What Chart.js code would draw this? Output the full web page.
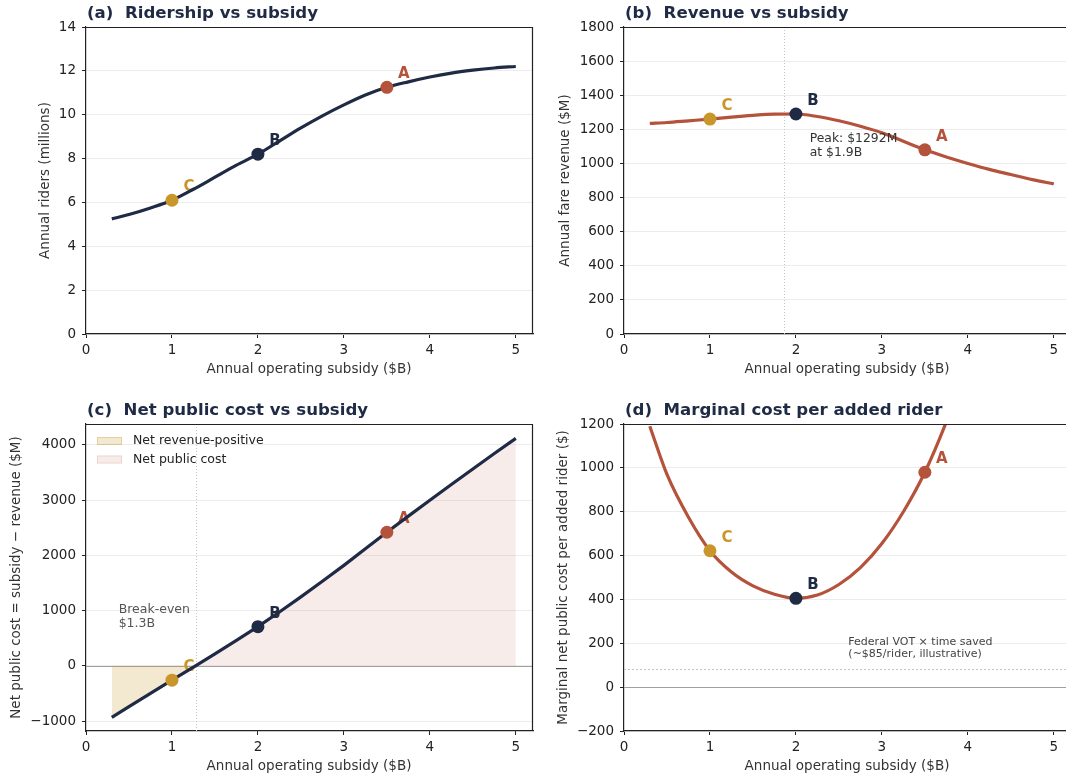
<!DOCTYPE html>
<html lang="en">
<head>
<meta charset="UTF-8">
<title>Transit subsidy tradeoffs</title>
<script src="https://cdn.jsdelivr.net/npm/chart.js@4.4.1/dist/chart.umd.min.js"></script>
<style>
  html, body { margin: 0; padding: 0; background: #fff; overflow: hidden; }
  #wrap { position: relative; width: 1066px; height: 776px; overflow: hidden; }
  canvas { position: absolute; }
</style>
</head>
<body>
<div id="wrap">
  <canvas id="ridership" width="540" height="390" style="left:0;top:0"></canvas>
  <canvas id="revenue" width="540" height="390" style="left:538px;top:0"></canvas>
  <canvas id="netCost" width="540" height="386" style="left:0;top:390px"></canvas>
  <canvas id="marginal" width="540" height="386" style="left:538px;top:390px"></canvas>
</div>
<script>
const NAVY = '#1f2a44', RUST = '#b5523b', GOLD = '#c9962b';

// curves
const subsidy = [0.3, 0.5, 0.75, 1, 1.25, 1.5, 1.75, 2, 2.25, 2.5, 2.75, 3, 3.25, 3.5, 3.75, 4, 4.25, 4.5, 4.75, 5];
const riders  = [5.25, 5.45, 5.75, 6.1, 6.6, 7.15, 7.7, 8.2, 8.8, 9.4, 9.95, 10.45, 10.9, 11.25, 11.5, 11.72, 11.9, 12.03, 12.13, 12.2];
const revenue = [1235, 1240, 1250, 1260, 1272, 1282, 1289, 1290, 1275, 1250, 1218, 1180, 1130, 1080, 1038, 1000, 965, 935, 905, 880];
const netCost = [-935, -740, -500, -260, -22, 218, 461, 710, 975, 1250, 1532, 1820, 2120, 2420, 2712, 3000, 3285, 3565, 3845, 4120];
const marginalSubsidy = [0.3, 0.5, 0.75, 1, 1.25, 1.5, 1.75, 2, 2.25, 2.5, 2.75, 3, 3.25, 3.5, 3.75, 4];
const marginalCost    = [1190, 970, 775, 622, 525, 462, 424, 405, 420, 468, 545, 655, 800, 980, 1210, 1480];

const breakEven = 1.28;    // $B where net cost crosses zero
const peakSubsidy = 1.86;  // $B at revenue peak
const votPerRider = 85;    // $ per rider

// scenarios A, B, C
const scenarios = ['A', 'B', 'C'];
const scenarioColors = [RUST, NAVY, GOLD];
const scenarioSubsidy  = [3.5, 2, 1];
const scenarioRiders   = [11.25, 8.2, 6.1];
const scenarioRevenue  = [1080, 1290, 1260];
const scenarioNet      = [2420, 710, -260];
const scenarioMarginal = [980, 405, 622];

// ticks
const xTicks = [0, 1, 2, 3, 4, 5];
const ridersTicks = [0, 2, 4, 6, 8, 10, 12, 14];
const revenueTicks = [0, 200, 400, 600, 800, 1000, 1200, 1400, 1600, 1800];
const netTicks = [-1000, 0, 1000, 2000, 3000, 4000];
const marginalTicks = [-200, 0, 200, 400, 600, 800, 1000, 1200];

Chart.defaults.font.family = "'DejaVu Sans', sans-serif";
Chart.defaults.color = '#222';

const fmt = v => v < 0 ? '\u2212' + Math.abs(v) : String(v);
const pairs = (xs, ys) => xs.map((x, i) => ({ x: x, y: ys[i] }));

function scenarioSets(vals) {
  return scenarios.map((s, i) => ({
    data: [{ x: scenarioSubsidy[i], y: vals[i] }],
    letter: s,
    backgroundColor: scenarioColors[i],
    pointRadius: 6.5,
    pointHoverRadius: 6.5,
    borderWidth: 0,
    showLine: false
  }));
}

function curve(xs, ys, color, smooth) {
  return {
    data: pairs(xs, ys),
    showLine: true,
    borderColor: color,
    borderWidth: 3.2,
    pointRadius: 0,
    fill: false,
    cubicInterpolationMode: smooth ? 'monotone' : 'default',
    tension: 0
  };
}

const deco = {
  id: 'deco',
  beforeDatasetsDraw(chart, args, o) {
    const { ctx, chartArea: a, scales: { x, y } } = chart;
    ctx.save();
    ctx.beginPath();
    ctx.rect(a.left, a.top, a.width, a.height);
    ctx.clip();
    for (const g of o.guides || []) {
      ctx.strokeStyle = g.color;
      ctx.lineWidth = 1;
      ctx.setLineDash(g.dash || []);
      ctx.beginPath();
      if ('x' in g) {
        const px = Math.round(x.getPixelForValue(g.x)) + 0.5;
        ctx.moveTo(px, a.top); ctx.lineTo(px, a.bottom);
      } else {
        const py = Math.round(y.getPixelForValue(g.y)) + 0.5;
        ctx.moveTo(a.left, py); ctx.lineTo(a.right, py);
      }
      ctx.stroke();
    }
    ctx.restore();

    // scenario letters
    ctx.save();
    ctx.font = 'bold 15px "DejaVu Sans"';
    ctx.textAlign = 'center';
    ctx.textBaseline = 'middle';
    chart.data.datasets.forEach((ds, i) => {
      if (!ds.letter) return;
      const p = chart.getDatasetMeta(i).data[0];
      ctx.fillStyle = ds.backgroundColor;
      ctx.fillText(ds.letter, p.x + 17, p.y - 13);
    });
    ctx.restore();
  },
  afterDraw(chart, args, o) {
    const { ctx, chartArea: a, scales: { x, y } } = chart;
    ctx.save();
    // top and right spines
    ctx.strokeStyle = '#222';
    ctx.lineWidth = 1.2;
    ctx.beginPath();
    ctx.moveTo(a.left, a.top + 0.5); ctx.lineTo(a.right, a.top + 0.5);
    ctx.moveTo(a.right - 0.5, a.top); ctx.lineTo(a.right - 0.5, a.bottom);
    ctx.stroke();

    // panel title
    ctx.fillStyle = NAVY;
    ctx.font = 'bold 16.6px "DejaVu Sans"';
    ctx.textAlign = 'left';
    ctx.textBaseline = 'middle';
    ctx.fillText(o.title, a.left + 1, a.top - 13);

    // axis titles
    ctx.fillStyle = '#333';
    ctx.font = '13.5px "DejaVu Sans"';
    ctx.textAlign = 'center';
    ctx.fillText('Annual operating subsidy ($B)', (a.left + a.right) / 2 - 0.5, a.bottom + 35);
    ctx.save();
    ctx.translate(a.left - o.yTitleOff, (a.top + a.bottom) / 2);
    ctx.rotate(-Math.PI / 2);
    ctx.fillText(o.yTitle, 0, 0);
    ctx.restore();

    // notes
    ctx.textAlign = 'left';
    for (const n of o.notes || []) {
      ctx.fillStyle = n.color;
      ctx.font = n.size + 'px "DejaVu Sans"';
      const px = x.getPixelForValue(n.x), py = y.getPixelForValue(n.y);
      n.lines.forEach((t, i) => ctx.fillText(t, px, py + i * n.size * 1.12));
    }

    // legend
    if (o.legend) {
      ctx.font = '12.5px "DejaVu Sans"';
      o.legend.forEach((it, i) => {
        const ly = a.top + 17 + i * 18.5;
        ctx.fillStyle = it.fill;
        ctx.fillRect(a.left + 11, ly - 4, 25, 8);
        ctx.strokeStyle = it.edge;
        ctx.lineWidth = 1;
        ctx.strokeRect(a.left + 11.5, ly - 3.5, 24, 7);
        ctx.fillStyle = '#222';
        ctx.fillText(it.label, a.left + 47, ly);
      });
    }
    ctx.restore();
  }
};

function makeChart(id, c) {
  return new Chart(document.getElementById(id), {
    type: 'scatter',
    data: { datasets: c.datasets },
    plugins: [deco],
    options: {
      responsive: false,
      animation: false,
      events: [],
      layout: { padding: { top: c.top, right: 7, left: 0, bottom: 0 } },
      plugins: {
        legend: { display: false },
        tooltip: { enabled: false },
        deco: c.deco
      },
      scales: {
        x: {
          type: 'linear', min: 0, max: 5.2,
          afterBuildTicks: s => { s.ticks = xTicks.map(v => ({ value: v })); },
          afterFit: s => { s.height = c.xHeight; },
          ticks: { padding: 4, maxRotation: 0, color: '#222', font: { size: 13.5 }, callback: fmt },
          grid: { drawOnChartArea: false, tickLength: 4, tickColor: '#222' },
          border: { color: '#222', width: 1.2 }
        },
        y: {
          min: c.yMin, max: c.yMax,
          afterBuildTicks: s => { s.ticks = c.yTicks.map(v => ({ value: v })); },
          afterFit: s => { s.width = 86; },
          ticks: { padding: 6, color: '#222', font: { size: 13.5 }, callback: fmt },
          grid: { color: '#ececec', tickLength: 4, tickColor: '#222' },
          border: { color: '#222', width: 1.2 }
        }
      }
    }
  });
}

// (a) ridership
makeChart('ridership', {
  datasets: [...scenarioSets(scenarioRiders), curve(subsidy, riders, NAVY, true)],
  yMin: 0, yMax: 14, yTicks: ridersTicks, top: 27, xHeight: 56,
  deco: { title: '(a)  Ridership vs subsidy', yTitle: 'Annual riders (millions)', yTitleOff: 41 }
});

// (b) revenue
makeChart('revenue', {
  datasets: [...scenarioSets(scenarioRevenue), curve(subsidy, revenue, RUST, true)],
  yMin: 0, yMax: 1800, yTicks: revenueTicks, top: 27, xHeight: 56,
  deco: {
    title: '(b)  Revenue vs subsidy', yTitle: 'Annual fare revenue ($M)', yTitleOff: 59,
    guides: [{ x: peakSubsidy, color: '#c4c4c4', dash: [1, 2] }],
    notes: [{ x: 2.16, y: 1145, lines: ['Peak: $1292M', 'at $1.9B'], size: 12.4, color: '#333' }]
  }
});

// (c) net public cost
const negX = subsidy.filter(v => v < breakEven).concat([breakEven]);
const negY = netCost.filter((v, i) => subsidy[i] < breakEven).concat([0]);
const posX = [breakEven].concat(subsidy.filter(v => v > breakEven));
const posY = [0].concat(netCost.filter((v, i) => subsidy[i] > breakEven));
const fillSet = (xs, ys, color) => ({
  data: pairs(xs, ys), showLine: true, borderWidth: 0, pointRadius: 0,
  backgroundColor: color, fill: { value: 0 }, tension: 0
});
makeChart('netCost', {
  datasets: [
    ...scenarioSets(scenarioNet),
    curve(subsidy, netCost, NAVY, false),
    fillSet(negX, negY, 'rgba(201,150,43,0.22)'),
    fillSet(posX, posY, 'rgba(181,82,59,0.11)')
  ],
  yMin: -1180, yMax: 4380, yTicks: netTicks, top: 34, xHeight: 45,
  deco: {
    title: '(c)  Net public cost vs subsidy',
    yTitle: 'Net public cost = subsidy \u2212 revenue ($M)', yTitleOff: 70,
    guides: [
      { y: 0, color: '#a0a0a0' },
      { x: breakEven, color: '#c4c4c4', dash: [1, 2] }
    ],
    notes: [{ x: 0.38, y: 1015, lines: ['Break-even', '$1.3B'], size: 12.5, color: '#555' }],
    legend: [
      { label: 'Net revenue-positive', fill: 'rgba(201,150,43,0.22)', edge: 'rgba(201,150,43,0.3)' },
      { label: 'Net public cost', fill: 'rgba(181,82,59,0.11)', edge: 'rgba(181,82,59,0.16)' }
    ]
  }
});

// (d) marginal cost per added rider
makeChart('marginal', {
  datasets: [...scenarioSets(scenarioMarginal), curve(marginalSubsidy, marginalCost, RUST, true)],
  yMin: -200, yMax: 1200, yTicks: marginalTicks, top: 34, xHeight: 45,
  deco: {
    title: '(d)  Marginal cost per added rider',
    yTitle: 'Marginal net public cost per added rider ($)', yTitleOff: 61,
    guides: [
      { y: 0, color: '#a0a0a0' },
      { y: votPerRider, color: '#c4c4c4', dash: [2, 2] }
    ],
    notes: [{ x: 2.61, y: 205, lines: ['Federal VOT \u00d7 time saved', '(~$85/rider, illustrative)'], size: 11, color: '#444' }]
  }
});
</script>
</body>
</html>
